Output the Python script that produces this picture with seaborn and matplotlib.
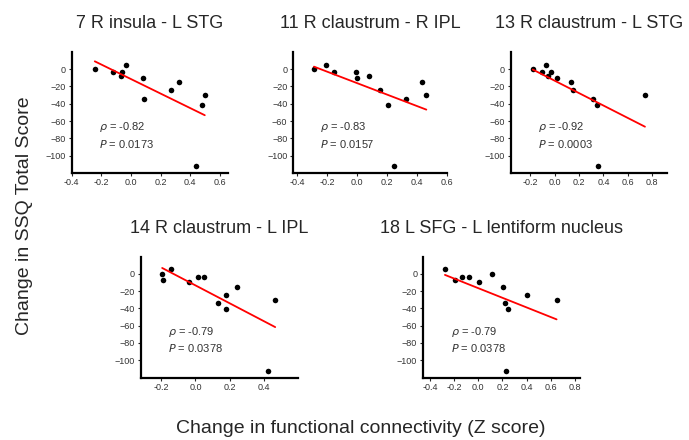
"""Scatter panels: change in SSQ score vs change in functional connectivity."""

import matplotlib

matplotlib.use("Agg")
import matplotlib.pyplot as plt
import seaborn as sns

# SSQ total score change per subject (same subjects in every panel)
ssq_change = [0, 5.4, -3.8, -3.8, -7.7, -9.6, -15.3, -24.5, -30.3, -34, -41, -112]

# change in FC (Z score) per connection, same subject order as ssq_change
fc_insula_lstg = [-0.244, -0.033, -0.118, -0.06, -0.064, 0.084, 0.322, 0.267, 0.498, 0.091, 0.482, 0.44]
fc_claustrum_ripl = [-0.289, -0.21, -0.154, -0.009, 0.076, 0.0, 0.434, 0.152, 0.461, 0.327, 0.208, 0.246]
fc_claustrum_lstg = [-0.178, -0.066, -0.099, -0.03, -0.055, 0.019, 0.137, 0.151, 0.74, 0.315, 0.348, 0.356]
fc_claustrum_lipl = [-0.194, -0.143, 0.017, 0.05, -0.188, -0.037, 0.241, 0.176, 0.465, 0.131, 0.178, 0.422]
fc_sfg_lentiform = [0.113, -0.276, -0.138, -0.077, -0.193, 0.008, 0.204, 0.4, 0.648, 0.218, 0.248, 0.229]

titles = [
    "7 R insula - L STG",
    "11 R claustrum - R IPL",
    "13 R claustrum - L STG",
    "14 R claustrum - L IPL",
    "18 L SFG - L lentiform nucleus",
]
rho_values = ["-0.82", "-0.83", "-0.92", "-0.79", "-0.79"]
p_values = ["0.0173", "0.0157", "0.0003", "0.0378", "0.0378"]
fc_series = [fc_insula_lstg, fc_claustrum_ripl, fc_claustrum_lstg, fc_claustrum_lipl, fc_sfg_lentiform]
y_ticks = [0, -20, -40, -60, -80, -100]
x_tick_sets = [
    [-0.4, -0.2, 0.0, 0.2, 0.4, 0.6],
    [-0.4, -0.2, 0.0, 0.2, 0.4, 0.6],
    [-0.2, 0.0, 0.2, 0.4, 0.6, 0.8],
    [-0.2, 0.0, 0.2, 0.4],
    [-0.4, -0.2, 0.0, 0.2, 0.4, 0.6, 0.8],
]

# layout: [left, bottom, width, height] in figure fraction, and x limits
panel_rects = [
    [0.104, 0.607, 0.227, 0.275],
    [0.425, 0.607, 0.224, 0.275],
    [0.741, 0.607, 0.227, 0.275],
    [0.204, 0.142, 0.229, 0.275],
    [0.6135, 0.142, 0.228, 0.275],
]
x_limits = [(-0.4, 0.655), (-0.43, 0.6), (-0.36, 0.92), (-0.32, 0.6), (-0.46, 0.84)]

sns.set_style("ticks")
plt.rcParams["font.family"] = ["Liberation Sans", "DejaVu Sans"]
plt.rcParams["mathtext.fontset"] = "dejavusans"

fig = plt.figure(figsize=(6.89, 4.4), dpi=100)

for i, fc in enumerate(fc_series):
    ax = fig.add_axes(panel_rects[i])
    sns.regplot(
        x=fc,
        y=ssq_change,
        ax=ax,
        ci=None,
        truncate=True,
        scatter_kws={"s": 16, "color": "black", "linewidths": 0, "alpha": 1},
        line_kws={"color": "#ff0000", "lw": 1.3},
    )
    ax.set_xlim(*x_limits[i])
    ax.set_ylim(-120, 20)
    ax.set_xticks(x_tick_sets[i])
    ax.set_xticklabels([f"{t:.1f}" for t in x_tick_sets[i]])
    ax.set_yticks(y_ticks)
    ax.tick_params(labelsize=6.5, labelcolor="#333333", length=2.5, width=0.8, pad=1.5)
    for side in ("left", "bottom"):
        ax.spines[side].set_linewidth(1.6)
        ax.spines[side].set_color("black")
    sns.despine(ax=ax)
    ax.set_title(titles[i], fontsize=13, pad=17)

    ax.text(0.177, 0.377, r"$\rho$ = " + rho_values[i], transform=ax.transAxes,
            fontsize=8, color="#333333", va="center", ha="left")
    ax.text(0.177, 0.24, r"$P$ = " + p_values[i], transform=ax.transAxes,
            fontsize=8, color="#333333", va="center", ha="left")

fig.text(0.036, 0.51, "Change in SSQ Total Score", rotation=90, fontsize=14,
         ha="center", va="center")
fig.text(0.523, 0.027, "Change in functional connectivity (Z score)", fontsize=14,
         ha="center", va="center")

fig.savefig("out.png", dpi=100)
